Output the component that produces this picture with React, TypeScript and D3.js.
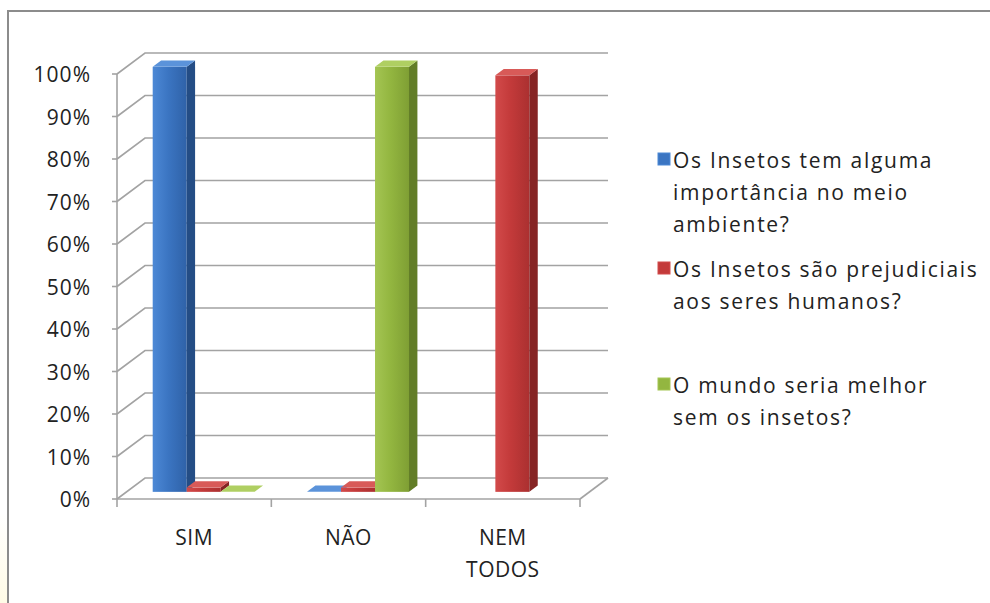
import React from "react";
import * as d3 from "d3";

// chart data
const categories = ["SIM", "NÃO", "NEM TODOS"];
const seriesNames = [
  "Os Insetos tem alguma importância no meio ambiente?",
  "Os Insetos são prejudiciais aos seres humanos?",
  "O mundo seria melhor sem os insetos?",
];
// legend text as wrapped in the picture
const legendLines = [
  ["Os Insetos tem alguma", "importância no meio", "ambiente?"],
  ["Os Insetos são prejudiciais", "aos seres humanos?"],
  ["O mundo seria melhor", "sem os insetos?"],
];
const insetosImportancia = [1.0, 0, null];
const insetosPrejudiciais = [0.01, 0.01, 0.98];
const mundoMelhor = [0, 1.0, null];
const yTicks = [0, 0.1, 0.2, 0.3, 0.4, 0.5, 0.6, 0.7, 0.8, 0.9, 1.0];

const seriesValues = [insetosImportancia, insetosPrejudiciais, mundoMelhor];

// colours: front light / front dark / side / top
const palette = [
  { light: "#4d89d6", base: "#3b75c2", dark: "#2f62a8", side: "#244d85", top: "#5b93da" },
  { light: "#d24a4a", base: "#c33a3a", dark: "#ab3030", side: "#862424", top: "#d85a58" },
  { light: "#a4c553", base: "#93b640", dark: "#7f9f34", side: "#627d27", top: "#afcf62" },
];

const width = 990;
const height = 603;

// 3d offset from the front plane to the back wall
const depthX = 28;
const depthY = -21;
// bars sit between these fractions of the depth
const barDepth0 = 0.34;
const barDepth1 = 0.64;

const x = d3.scaleBand<string>().domain(categories).range([117, 580]).paddingInner(0).paddingOuter(0);
const inner = d3
  .scaleBand<number>()
  .domain(d3.range(seriesValues.length))
  .range([0, x.bandwidth()])
  .paddingInner(0)
  .paddingOuter(0.77);
const y = d3.scaleLinear().domain([0, 1]).range([499, 74]);
const pct = d3.format(".0%");

const pts = (p: [number, number][]) => p.map((d) => d.join(",")).join(" ");

function Bar({ cat, si, v }: { cat: string; si: number; v: number }) {
  const c = palette[si];
  const x0 = (x(cat) as number) + (inner(si) as number) + barDepth0 * depthX;
  const x1 = x0 + inner.bandwidth();
  const yb = y(0) + barDepth0 * depthY;
  const yt = y(v) + barDepth0 * depthY;
  const ddx = (barDepth1 - barDepth0) * depthX;
  const ddy = (barDepth1 - barDepth0) * depthY;
  return (
    <g>
      <rect x={x0} y={yt} width={x1 - x0} height={yb - yt} fill={`url(#front${si})`} />
      <polygon
        points={pts([
          [x1, yt],
          [x1 + ddx, yt + ddy],
          [x1 + ddx, yb + ddy],
          [x1, yb],
        ])}
        fill={c.side}
      />
      <polygon
        points={pts([
          [x0, yt],
          [x0 + ddx, yt + ddy],
          [x1 + ddx, yt + ddy],
          [x1, yt],
        ])}
        fill={c.top}
      />
    </g>
  );
}

export default function App() {
  const xL = 117;
  const xR = 580;
  const textFont = "'Open Sans', sans-serif";
  return (
    <svg
      width={width}
      height={height}
      style={{ position: "absolute", left: 0, top: 0, display: "block", background: "#fff" }}
    >
      <defs>
        {palette.map((c, i) => (
          <linearGradient key={i} id={`front${i}`} x1="0" x2="1" y1="0" y2="0">
            <stop offset="0%" stopColor={c.light} />
            <stop offset="45%" stopColor={c.base} />
            <stop offset="100%" stopColor={c.dark} />
          </linearGradient>
        ))}
        <linearGradient id="edge" x1="0" x2="0" y1="0" y2="1">
          <stop offset="0%" stopColor="#ffffff" />
          <stop offset="85%" stopColor="#ffffff" />
          <stop offset="100%" stopColor="#fffbe6" />
        </linearGradient>
      </defs>

      <rect x={0} y={0} width={7} height={height} fill="url(#edge)" />
      {/* outer frame */}
      <path d={`M8,${height} L8,11 L${width},11`} fill="none" stroke="#8c8c8c" strokeWidth={2} />

      {/* back wall grid lines and side wall diagonals */}
      {yTicks.map((t) => (
        <g key={t} stroke="#a3a3a3" strokeWidth={1.6} fill="none">
          <polyline
            points={pts([
              [xL, y(t)],
              [xL + depthX, y(t) + depthY],
              [xR + depthX, y(t) + depthY],
            ])}
          />
          <line x1={xL - 5} x2={xL} y1={y(t)} y2={y(t)} />
        </g>
      ))}
      {/* floor */}
      <g stroke="#a3a3a3" strokeWidth={1.6} fill="none">
        <line x1={xL} x2={xR} y1={y(0)} y2={y(0)} />
        <line x1={xR} x2={xR + depthX} y1={y(0)} y2={y(0) + depthY} />
        <line x1={xL} x2={xL} y1={y(1)} y2={y(0) + 8} />
        {categories.map((c) => (
          <line
            key={c}
            x1={(x(c) as number) + x.bandwidth()}
            x2={(x(c) as number) + x.bandwidth()}
            y1={y(0)}
            y2={y(0) + 8}
          />
        ))}
      </g>

      {/* bars */}
      {categories.map((cat, ci) =>
        seriesValues.map((vals, si) =>
          vals[ci] == null ? null : <Bar key={`${ci}-${si}`} cat={cat} si={si} v={vals[ci] as number} />
        )
      )}

      {/* y axis labels */}
      {yTicks.map((t) => (
        <text
          key={t}
          x={91}
          y={y(t) + 8}
          textAnchor="end"
          fontFamily={textFont}
          fontSize={21}
          letterSpacing={1}
          fill="#222"
        >
          {pct(t)}
        </text>
      ))}

      {/* x axis labels */}
      {categories.map((c) =>
        c.split(" ").map((w, li) => (
          <text
            key={c + li}
            x={(x(c) as number) + x.bandwidth() / 2}
            y={545 + li * 32}
            textAnchor="middle"
            fontFamily={textFont}
            fontSize={21}
            letterSpacing={0.5}
            fill="#222"
          >
            {w}
          </text>
        ))
      )}

      {/* legend */}
      {legendLines.map((lines, i) => {
        const base = [168, 277, 393][i];
        return (
          <g key={seriesNames[i]}>
            <rect
              x={658}
              y={base - 15}
              width={12}
              height={12}
              fill={palette[i].base}
              stroke={palette[i].light}
              strokeWidth={1}
            />
            {lines.map((l, li) => (
              <text
                key={li}
                x={673}
                y={base + li * 32}
                fontFamily={textFont}
                fontSize={21}
                letterSpacing={1.7}
                fill="#222"
              >
                {l}
              </text>
            ))}
          </g>
        );
      })}
    </svg>
  );
}
